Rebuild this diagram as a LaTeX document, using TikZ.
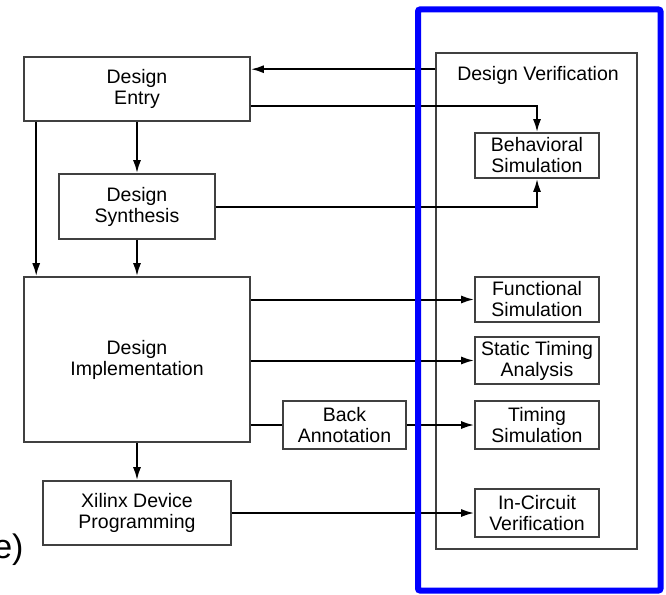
\documentclass[tikz,border=0pt]{standalone}
\usepackage{fontspec}
\setmainfont{Liberation Sans}
\usetikzlibrary{arrows.meta}

\begin{document}
\begin{tikzpicture}[x=1pt,y=-1pt,line width=2pt,
	box/.style={draw=black!75,line width=1.6pt,fill=white,align=center,inner sep=0pt,font=\fontsize{19.5}{21}\selectfont},
	arr/.style={-{Latex[length=13pt,width=8pt]}}]
\useasboundingbox (0,0) rectangle (666,594);

% left column
\node[box,minimum width=226pt,minimum height=64pt] (entry) at (137,89) {Design\\Entry};
\node[box,minimum width=156pt,minimum height=65pt] (synth) at (137,206.5) {Design\\Synthesis};
\node[box,minimum width=226pt,minimum height=165pt] (impl) at (137,359.5) {Design\\Implementation};
\node[box,minimum width=188pt,minimum height=64pt] (xilinx) at (137,513) {Xilinx Device\\Programming};
\node[box,minimum width=123pt,minimum height=48pt] (back) at (344.5,425) {Back\\Annotation};

% verification
\node[box,minimum width=201pt,minimum height=496pt] (verif) at (536.5,301) {};
\node[font=\fontsize{19.5}{21}\selectfont] (vlabel) at (538,75) {Design Verification};
\node[box,minimum width=124pt,minimum height=45pt] (behav) at (537,155.5) {Behavioral\\Simulation};
\node[box,minimum width=124pt,minimum height=45pt] (func) at (537,299.5) {Functional\\Simulation};
\node[box,minimum width=124pt,minimum height=47pt] (sta) at (537,360.5) {Static Timing\\Analysis};
\node[box,minimum width=124pt,minimum height=48pt] (tsim) at (537,425) {Timing\\Simulation};
\node[box,minimum width=124pt,minimum height=48pt] (icv) at (537,513) {In-Circuit\\Verification};

% down the flow
\draw[arr] (entry.south) -- (synth.north);
\draw[arr] (synth.south) -- (impl.north);
\draw[arr] ([xshift=13pt]entry.south west) -- ([xshift=13pt]entry.south west |- impl.north);
\draw[arr] (impl.south) -- (xilinx.north);

% back to entry
\draw[arr] ([yshift=-13pt]verif.west |- entry.north) -- ([yshift=-13pt]entry.north east);

% behavioral
\draw[arr] ([yshift=16pt]entry.south east) -| (behav.north);
\draw[arr] (synth.east) -| (behav.south);

% from implementation
\draw[arr] (impl.east |- func.west) -- (func.west);
\draw[arr] (impl.east |- sta.west) -- (sta.west);
\draw (impl.east |- back.west) -- (back.west);
\draw[arr] (back.east) -- (tsim.west);
\draw[arr] (xilinx.east) -- (icv.west);

% frame
\draw[blue,line width=6pt,rounded corners=2pt] (418,9.5) rectangle (660.5,590.5);
\node[font=\fontsize{34}{34}\selectfont,anchor=base east,inner sep=0pt] (tag) at (24.5,558) {e)};
\end{tikzpicture}
\end{document}
